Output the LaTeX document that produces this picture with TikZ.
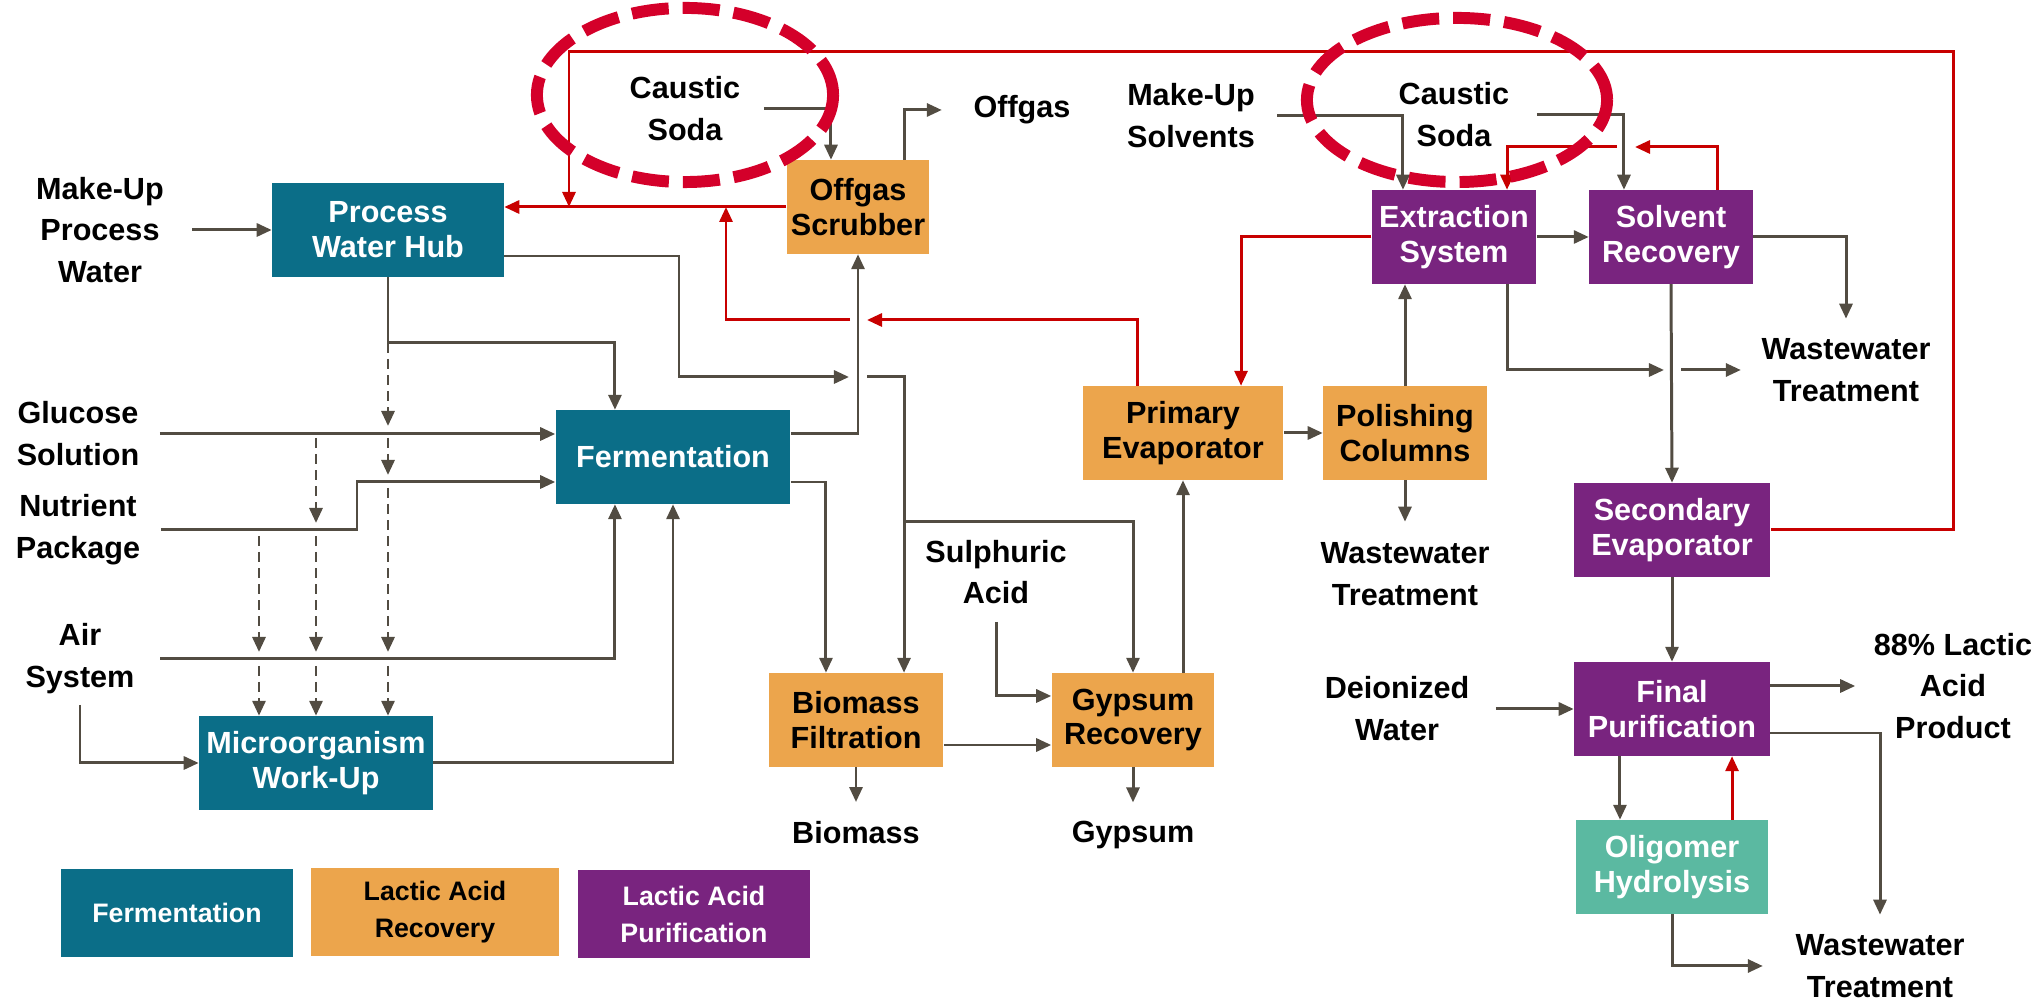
\documentclass[tikz,border=0pt]{standalone}
\usepackage{fontspec}
\setmainfont{Liberation Sans}
\usepackage{xcolor}
\usetikzlibrary{arrows.meta}
\definecolor{fermteal}{RGB}{11,110,136}
\definecolor{recorange}{RGB}{236,165,76}
\definecolor{purifpurple}{RGB}{121,36,127}
\definecolor{oligogreen}{RGB}{91,185,161}
\definecolor{flowgray}{RGB}{82,76,66}
\definecolor{returnred}{RGB}{200,0,0}
\definecolor{ringred}{RGB}{212,0,42}

\begin{document}
\begin{tikzpicture}[x=0.01cm,y=-0.01cm,
  every node/.style={font=\fontsize{8.7}{11.9}\selectfont\bfseries,align=center,inner sep=0pt},
  stagebox/.style={minimum height=0.93cm,font=\fontsize{8.7}{9.9}\selectfont\bfseries},
  fermunit/.style={stagebox,fill=fermteal,text=white},
  recunit/.style={stagebox,fill=recorange,text=black},
  purunit/.style={stagebox,fill=purifpurple,text=white},
  oligunit/.style={stagebox,fill=oligogreen,text=white},
  legendbox/.style={minimum height=0.87cm,font=\fontsize{7.6}{10.5}\selectfont\bfseries},
  flow/.style={draw=flowgray,line width=0.85pt,-{Triangle[length=0.15cm,width=0.13cm]}},
  dflow/.style={flow,dash pattern=on 0.1cm off 0.06cm},
  recycle/.style={draw=returnred,line width=0.85pt,-{Triangle[length=0.15cm,width=0.13cm]}},
  sodaring/.style={draw=ringred,line width=3.4pt,dash pattern=on 0.37cm off 0.14cm}]
\useasboundingbox (0,0) rectangle (2044,1001);

\node[fermunit,minimum width=2.31cm] (hub) at (388,230) {Process\\Water Hub};
\node[recunit,minimum width=1.42cm] (scrub) at (858,207) {Offgas\\Scrubber};
\node[fermunit,minimum width=2.34cm] (ferm) at (673,457) {Fermentation};
\node[fermunit,minimum width=2.33cm] (micro) at (316,763) {Microorganism\\Work-Up};
\node[recunit,minimum width=1.74cm] (biofilt) at (856,720) {Biomass\\Filtration};
\node[recunit,minimum width=1.62cm] (gyprec) at (1133,720) {Gypsum\\Recovery};
\node[recunit,minimum width=2.00cm] (primevap) at (1183,433) {Primary\\Evaporator};
\node[recunit,minimum width=1.63cm] (polish) at (1405,433) {Polishing\\Columns};
\node[purunit,minimum width=1.64cm] (extract) at (1454,237) {Extraction\\System};
\node[purunit,minimum width=1.63cm] (solvrec) at (1671,237) {Solvent\\Recovery};
\node[purunit,minimum width=1.96cm] (secevap) at (1672,530) {Secondary\\Evaporator};
\node[purunit,minimum width=1.95cm] (finalpur) at (1672,709) {Final\\Purification};
\node[oligunit,minimum width=1.92cm] (oligo) at (1672,867) {Oligomer\\Hydrolysis};

\node (mupw) at (100,230) {Make-Up\\Process\\Water};
\node (glucose) at (78,434) {Glucose\\Solution};
\node (nutrient) at (78,530) {Nutrient\\Package};
\node (air) at (80,659) {Air\\System};
\node (causta) at (685,109) {Caustic\\Soda};
\node (offgas) at (1022,110) {Offgas};
\node (musolv) at (1191,116) {Make-Up\\Solvents};
\node (caustb) at (1454,115) {Caustic\\Soda};
\node (sulph) at (996,572) {Sulphuric\\Acid};
\node (biomass) at (856,833) {Biomass};
\node (gypsum) at (1133,835) {Gypsum};
\node (wwa) at (1405,574) {Wastewater\\Treatment};
\node (wwb) at (1846,370) {Wastewater\\Treatment};
\node (deion) at (1397,709) {Deionized\\Water};
\node (product) at (1953,686) {88\% Lactic\\Acid\\Product};
\node (wwc) at (1880,966) {Wastewater\\Treatment};

\node[legendbox,fill=fermteal,text=white,minimum width=2.31cm] (legferm) at (177,913) {Fermentation};
\node[legendbox,fill=recorange,minimum width=2.48cm] (legrec) at (435,912) {Lactic Acid\\Recovery};
\node[legendbox,fill=purifpurple,text=white,minimum width=2.31cm] (legpur) at (694,914) {Lactic Acid\\Purification};

\coordinate (hubsplit) at (388,343);
\coordinate (hubturn) at (679,377);
\coordinate (ggap) at (858,377);
\coordinate (biosplit) at (904,522);
\coordinate (rgap) at (858,320);
\coordinate (evapret) at (726,320);
\coordinate (sgap) at (1625,147);
\coordinate (wwgap) at (1672,370);
\coordinate (loopright) at (1953,52);
\coordinate (loopleft) at (569,52);
\coordinate (nutbend) at (357,482);

\draw[flow] ([xshift=0.28cm]mupw.east) -- (hub.west);
\draw[flow] (hub.south) -- (hubsplit) -| ([xshift=-0.58cm]ferm.north);
\draw[flow] ([xshift=0.2cm]glucose.east) -- (glucose.east -| ferm.west);
\draw[flow] ([xshift=0.2cm]nutrient.east) -| (nutbend) -- (nutbend -| ferm.west);
\draw[flow] ([xshift=0.25cm]air.east) -| ([xshift=-0.58cm]ferm.south);
\draw[flow] ([yshift=-0.1cm]air.south) |- (micro.west);
\draw[flow] (micro.east) -| (ferm.south);
\draw[flow] ([yshift=0.23cm]ferm.east) -| (scrub.south);
\draw[flow] ([yshift=-0.25cm]ferm.east) -| ([xshift=-0.3cm]biofilt.north);
\draw[flow] ([yshift=-0.26cm]hub.east) -| (hubturn) -- ([xshift=-0.09cm]ggap);
\draw[flow] ([xshift=0.09cm]ggap) -| ([xshift=0.48cm]biofilt.north);
\draw[flow] (biosplit) -| (gyprec.north);
\draw[flow] ([xshift=0.23cm]causta.east) -| ([xshift=-0.27cm]scrub.north);
\draw[flow] ([xshift=0.46cm]scrub.north) |- ([xshift=-0.31cm]offgas.west);
\draw[flow] ([yshift=-0.17cm]sulph.south) |- ([yshift=0.24cm]gyprec.west);
\draw[flow] ([yshift=-0.25cm]biofilt.east) -- ([yshift=-0.25cm]gyprec.west);
\draw[flow] (biofilt.south) -- ([yshift=0.19cm]biomass.north);
\draw[flow] (gyprec.south) -- ([yshift=0.18cm]gypsum.north);
\draw[flow] (primevap.south |- gyprec.north) -- (primevap.south);
\draw[flow] (primevap.east) -- (polish.west);
\draw[flow] (polish.north) -- (polish.north |- extract.south);
\draw[flow] (polish.south) -- ([yshift=0.2cm]wwa.north);
\draw[flow] ([xshift=0.22cm]musolv.east) -| ([xshift=-0.51cm]extract.north);
\draw[flow] ([xshift=0.27cm]caustb.east) -| ([xshift=-0.47cm]solvrec.north);
\draw[flow] (extract.east) -- (solvrec.west);
\draw[flow] (solvrec.east) -| ([yshift=0.19cm]wwb.north);
\draw[flow] ([xshift=0.53cm]extract.south) |- ([xshift=-0.08cm]wwgap);
\draw[flow] ([xshift=0.09cm]wwgap) -- ([xshift=-0.2cm]wwb.west);
\draw[flow] (solvrec.south) -- (secevap.north);
\draw[flow] (secevap.south) -- (finalpur.north);
\draw[flow] ([xshift=0.26cm]deion.east) -- (finalpur.west);
\draw[flow] (finalpur.east |- product.west) -- ([xshift=-0.18cm]product.west);
\draw[flow] ([yshift=-0.24cm]finalpur.east) -| ([yshift=0.19cm]wwc.north);
\draw[flow] ([xshift=-0.52cm]finalpur.south) -- ([xshift=-0.52cm]oligo.north);
\draw[flow] (oligo.south) |- ([xshift=-0.32cm]wwc.west);

\foreach \x/\ya/\yb in {388/343/426,388/438/475,388/488/652,316/438/523,316/536/652,259/536/652}
  \draw[dflow] (\x,\ya) -- (\x,\yb);
\foreach \x in {259,316,388}
  \draw[dflow] (\x,666) -- (\x,666 |- micro.north);

\draw[recycle] (scrub.west) -- (hub.east |- scrub.west);
\draw[recycle] (secevap.east) -| (loopright) -- (loopleft) -- (loopleft |- scrub.west);
\draw[recycle] ([xshift=-0.45cm]primevap.north) |- ([xshift=0.09cm]rgap);
\draw[recycle] ([xshift=-0.08cm]rgap) -| (evapret |- scrub.west);
\draw[recycle] (extract.west) -| ([xshift=0.58cm]primevap.north);
\draw[recycle] ([xshift=0.46cm]solvrec.north) |- ([xshift=0.1cm]sgap);
\draw[recycle] ([xshift=-0.08cm]sgap) -| ([xshift=0.53cm]extract.north);
\draw[recycle] ([xshift=0.6cm]oligo.north) -- ([xshift=0.6cm]finalpur.south);

\draw[sodaring] (685,95) ellipse [x radius=1.48cm,y radius=0.87cm];
\draw[sodaring] (1457,100) ellipse [x radius=1.5cm,y radius=0.82cm];
\end{tikzpicture}
\end{document}
